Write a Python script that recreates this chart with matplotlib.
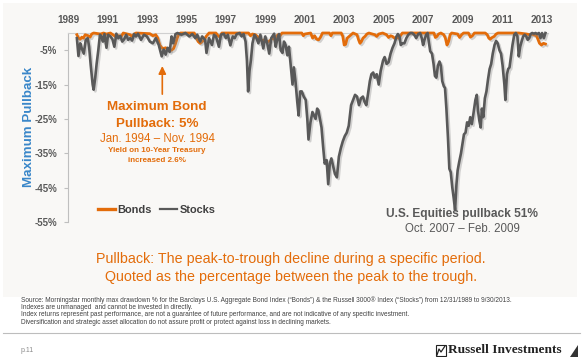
import matplotlib
matplotlib.use("Agg")
import matplotlib.pyplot as plt
import matplotlib.patheffects as pe
from matplotlib.patches import Rectangle, Polygon
from matplotlib.lines import Line2D

plt.rcParams['font.family'] = ['Liberation Sans', 'DejaVu Sans']

# ---------------- data ----------------
stock_t = [1990.00, 1990.08, 1990.17, 1990.25, 1990.35, 1990.45, 1990.55, 1990.62, 1990.70, 1990.80,
           1990.85, 1990.93, 1991.00, 1991.08, 1991.17, 1991.25, 1991.32, 1991.40, 1991.50, 1991.58,
           1991.70, 1991.80, 1991.90, 1992.00, 1992.10, 1992.20, 1992.30, 1992.40, 1992.50, 1992.60,
           1992.70, 1992.80, 1992.90, 1993.00, 1993.10, 1993.25, 1993.40, 1993.55, 1993.70, 1993.85,
           1994.00, 1994.15, 1994.30, 1994.40, 1994.50, 1994.60, 1994.70, 1994.80, 1994.88, 1995.00,
           1995.10, 1995.30, 1995.50, 1995.70, 1995.85, 1996.00, 1996.10, 1996.25, 1996.35, 1996.50,
           1996.57, 1996.70, 1996.85, 1996.95, 1997.05, 1997.20, 1997.30, 1997.45, 1997.55, 1997.65,
           1997.78, 1997.90, 1998.00, 1998.10, 1998.25, 1998.35, 1998.45, 1998.55, 1998.62, 1998.68,
           1998.75, 1998.82, 1998.90, 1999.00, 1999.10, 1999.20, 1999.30, 1999.45, 1999.55, 1999.65,
           1999.75, 1999.85, 2000.00, 2000.08, 2000.15, 2000.25, 2000.33, 2000.42, 2000.50, 2000.58,
           2000.67, 2000.75, 2000.85, 2000.93, 2001.00, 2001.08, 2001.17, 2001.24, 2001.32, 2001.40,
           2001.50, 2001.60, 2001.68, 2001.74, 2001.84, 2001.94, 2002.02, 2002.10, 2002.18, 2002.24,
           2002.32, 2002.40, 2002.48, 2002.56, 2002.66, 2002.74, 2002.82, 2002.90, 2003.00, 2003.08,
           2003.18, 2003.28, 2003.38, 2003.48, 2003.58, 2003.68, 2003.78, 2003.90, 2004.00, 2004.10,
           2004.20, 2004.30, 2004.40, 2004.50, 2004.58, 2004.67, 2004.75, 2004.85, 2004.93, 2005.02,
           2005.10, 2005.20, 2005.30, 2005.40, 2005.52, 2005.60, 2005.70, 2005.80, 2005.90, 2006.00,
           2006.10, 2006.20, 2006.27, 2006.35, 2006.42, 2006.50, 2006.60, 2006.70, 2006.80, 2006.90,
           2007.00, 2007.10, 2007.20, 2007.30, 2007.40, 2007.48, 2007.55, 2007.62, 2007.70, 2007.78,
           2007.85, 2007.91, 2008.00, 2008.08, 2008.15, 2008.22, 2008.30, 2008.38, 2008.45, 2008.52,
           2008.60, 2008.66, 2008.73, 2008.81, 2008.88, 2008.95, 2009.03, 2009.10, 2009.17, 2009.24,
           2009.30, 2009.38, 2009.47, 2009.55, 2009.62, 2009.70, 2009.78, 2009.86, 2009.94, 2010.02,
           2010.10, 2010.20, 2010.27, 2010.33, 2010.40, 2010.47, 2010.53, 2010.60, 2010.68, 2010.76,
           2010.84, 2010.92, 2011.00, 2011.08, 2011.17, 2011.25, 2011.33, 2011.42, 2011.50, 2011.58,
           2011.67, 2011.72, 2011.80, 2011.86, 2011.93, 2012.00, 2012.08, 2012.17, 2012.25, 2012.33,
           2012.40, 2012.47, 2012.55, 2012.62, 2012.70, 2012.78, 2012.85, 2012.93, 2013.00, 2013.08,
           2013.17, 2013.25, 2013.33, 2013.42, 2013.50, 2013.58, 2013.67, 2013.75]
stock_v = [-1.5, -6.7, -3.0, -4.5, -6.0, -2.0, -1.5, -4.0, -9.3, -15.0,
           -16.5, -13.0, -9.0, -5.3, -0.5, -1.0, -2.5, -0.3, -4.3, -0.5,
           -1.0, -1.8, -4.0, -0.2, -1.5, -0.8, -2.5, -1.8, -0.5, -2.0,
           -1.5, -2.2, -0.3, -1.0, -0.2, -2.0, -0.5, -1.0, -2.5, -3.0,
           -1.5, -3.5, -6.8, -4.8, -6.3, -4.3, -5.5, -1.0, -3.0, -0.3,
           0.0, -0.5, 0.0, -1.0, -0.3, -1.5, -0.5, -2.5, -1.0, -2.0,
           -5.8, -1.5, -3.5, -0.5, -1.0, -4.0, -0.5, -0.2, -1.5, -0.5,
           -3.6, -1.0, -1.5, -0.3, 0.0, -1.0, -0.3, -2.5, -8.0, -17.0,
           -11.0, -8.0, -3.0, -0.5, -1.5, -3.0, -0.5, -4.5, -1.0, -3.0,
           -6.0, -1.5, -0.2, -4.0, -2.0, -0.3, -5.0, -5.8, -2.5, -3.5,
           -6.5, -4.0, -10.0, -15.0, -10.0, -14.0, -20.0, -24.0, -17.0, -17.0,
           -18.5, -19.5, -25.0, -31.0, -26.0, -23.0, -24.0, -25.0, -22.0, -22.5,
           -25.0, -27.5, -33.0, -38.0, -37.0, -44.0, -38.0, -36.5, -39.0, -41.0,
           -42.0, -36.0, -33.5, -31.5, -30.0, -29.0, -27.0, -21.0, -19.5, -18.0,
           -18.5, -21.0, -19.0, -18.5, -20.0, -21.0, -18.0, -14.0, -12.0, -11.5,
           -13.0, -12.0, -15.0, -11.0, -8.0, -7.0, -9.0, -8.5, -6.0, -4.3,
           -3.0, -1.0, -0.3, -1.0, -3.5, -3.0, -3.0, -1.5, -0.5, 0.0,
           0.0, -0.5, -1.5, -0.3, 0.0, -1.5, -3.5, -2.0, -0.5, 0.0,
           -3.0, -5.3, -6.0, -9.0, -12.5, -13.0, -9.5, -8.3, -9.5, -14.0,
           -15.5, -16.0, -22.0, -30.5, -39.5, -40.5, -45.0, -48.0, -51.5, -44.0,
           -40.0, -37.5, -35.0, -32.0, -29.5, -29.0, -26.0, -27.0, -24.5, -26.5,
           -23.5, -19.5, -18.0, -22.5, -25.5, -27.5, -22.0, -24.5, -19.0, -17.0,
           -13.5, -10.5, -9.0, -6.0, -3.5, -2.3, -3.0, -5.0, -6.0, -9.5,
           -15.0, -19.5, -12.0, -10.5, -10.0, -7.0, -3.5, -0.5, 0.0, -1.0,
           -6.8, -4.0, -2.3, -1.0, -0.5, -1.0, -2.0, -1.5, -0.3, 0.0,
           -0.2, 0.0, -0.3, 0.0, -1.5, 0.0, -1.5, 0.0]

bond_t = [1990.00, 1990.08, 1990.17, 1990.25, 1990.33, 1990.42, 1990.58, 1990.67, 1990.75, 1990.85,
          1991.20, 1991.35, 1991.50, 1991.70, 1992.00, 1992.10, 1992.25, 1992.35, 1992.70, 1992.80,
          1992.90, 1993.00, 1993.70, 1993.85, 1994.00, 1994.10, 1994.20, 1994.30, 1994.40, 1994.50,
          1994.60, 1994.70, 1994.80, 1994.90, 1995.00, 1995.08, 1995.15, 1995.25, 1995.95, 1996.05,
          1996.15, 1996.25, 1996.35, 1996.45, 1996.55, 1996.70, 1997.05, 1997.15, 1997.25, 1997.35,
          1998.70, 1998.80, 1998.90, 1999.05, 1999.15, 1999.30, 1999.40, 1999.50, 1999.60, 1999.70,
          1999.80, 1999.90, 2000.00, 2000.10, 2000.20, 2000.30, 2000.40, 2001.40, 2001.48, 2001.55,
          2001.85, 2001.95, 2002.05, 2002.15, 2002.25, 2002.35, 2002.45, 2002.80, 2002.88, 2002.95,
          2003.40, 2003.48, 2003.55, 2003.62, 2003.70, 2003.80, 2003.90, 2004.00, 2004.20, 2004.28,
          2004.35, 2004.42, 2004.50, 2004.60, 2004.70, 2004.80, 2005.10, 2005.20, 2005.30, 2005.50,
          2005.70, 2005.80, 2005.90, 2006.00, 2006.10, 2006.20, 2006.30, 2006.40, 2006.50, 2008.10,
          2008.17, 2008.25, 2008.33, 2008.45, 2008.60, 2008.68, 2008.76, 2008.84, 2008.92, 2009.00,
          2009.30, 2009.40, 2009.50, 2009.60, 2009.85, 2009.95, 2010.05, 2010.15, 2010.70, 2010.80,
          2010.88, 2010.95, 2011.05, 2011.15, 2011.25, 2011.35, 2012.40, 2012.80, 2012.95, 2013.05,
          2013.15, 2013.30, 2013.38, 2013.45, 2013.55, 2013.65, 2013.75]
bond_v = [-0.5, -1.5, -1.8, -1.2, -1.5, -0.5, -0.8, -1.2, -0.3, 0.0,
          -0.3, 0.0, -0.3, 0.0, -1.2, -0.8, -1.0, 0.0, -0.5, -1.0,
          -0.3, 0.0, -0.2, -0.8, -0.5, -1.5, -3.5, -4.3, -4.5, -4.3,
          -4.7, -5.0, -5.0, -4.5, -3.0, -1.5, -0.5, 0.0, 0.0, -1.5,
          -2.5, -3.0, -2.5, -2.0, -1.0, 0.0, 0.0, -0.8, -1.2, 0.0,
          0.0, -0.8, -0.3, -0.5, -1.0, -1.8, -2.3, -2.0, -2.3, -2.5,
          -2.2, -1.5, -1.8, -1.0, -0.5, -0.8, 0.0, 0.0, -0.8, -0.3,
          0.0, -1.5, -0.8, -1.8, -2.0, -1.2, 0.0, 0.0, -0.8, 0.0,
          0.0, -1.0, -3.5, -3.3, -1.5, -1.0, -0.5, 0.0, -0.5, -2.0,
          -3.0, -2.5, -1.5, -1.0, -0.3, 0.0, -0.5, -1.0, -0.3, 0.0,
          -0.5, -1.3, -0.8, -1.0, -1.5, -1.2, -1.5, -0.8, 0.0, 0.0,
          -1.3, -1.0, -0.3, 0.0, -0.5, -1.5, -3.5, -2.5, -0.5, 0.0,
          -0.3, -1.3, -0.5, 0.0, 0.0, -1.2, -0.8, 0.0, 0.0, -0.5,
          -1.5, -1.8, -1.3, -1.0, -0.3, 0.0, 0.0, -0.3, -0.5, -0.3,
          -0.5, -0.8, -2.0, -3.0, -3.5, -3.0, -3.2]

year_labels = [1989, 1991, 1993, 1995, 1997, 1999, 2001, 2003, 2005, 2007, 2009, 2011, 2013]
y_ticks = [-5, -15, -25, -35, -45, -55]

ORANGE = '#e36c0a'
GREY = '#595959'
BLUE = '#3a87c9'

W, H = 588, 357
fig = plt.figure(figsize=(W / 100, H / 100), dpi=100)
fig.patch.set_facecolor('white')

def fx(px):
    return px / W

def fy(py):
    return 1 - py / H

# slide background
fig.patches.append(Rectangle((fx(3), fy(297)), fx(577) - fx(3), fy(3) - fy(297),
                             transform=fig.transFigure, facecolor='#f9f8f6', edgecolor='none', zorder=-10))

ax = fig.add_axes([fx(68), fy(222), fx(548) - fx(68), fy(33) - fy(222)])
ax.set_zorder(2)
ax.set_facecolor('none')
ax.set_xlim(1990.0, 1990.0 + 480 / 20.1)
ax.set_ylim(-55, 0)

shadow = [pe.SimpleLineShadow(offset=(1.2, -1.2), shadow_color='#888888', alpha=0.35), pe.Normal()]
ax.plot(bond_t, bond_v, color=ORANGE, lw=2.0, solid_joinstyle='round', path_effects=shadow,
        label='Bonds', zorder=3, clip_on=False)
ax.plot(stock_t, stock_v, color=GREY, lw=1.9, solid_joinstyle='round', path_effects=shadow,
        label='Stocks', zorder=4, clip_on=False)

for s in ['right', 'bottom']:
    ax.spines[s].set_visible(False)
ax.spines['left'].set_color('#bfbfbf')
ax.spines['left'].set_linewidth(0.8)
ax.spines['top'].set_color('#d0d0d0')
ax.spines['top'].set_linewidth(0.8)

ax.set_yticks(y_ticks)
ax.set_yticklabels([f'{v}%' for v in y_ticks])
ax.tick_params(axis='y', length=3, width=0.8, color='#bfbfbf', pad=5,
               labelsize=7, labelcolor=GREY)
for lab in ax.get_yticklabels():
    lab.set_fontweight('bold')

ax.xaxis.tick_top()
ax.set_xticks([y + 0.55 for y in year_labels])
ax.set_xticklabels([str(y) for y in year_labels])
ax.tick_params(axis='x', length=0, pad=6, labelsize=7.2, labelcolor=GREY)
for lab in ax.get_xticklabels():
    lab.set_fontweight('bold')

leg = ax.legend(loc='center left', bbox_to_anchor=(fx(89), fy(210)), bbox_transform=fig.transFigure,
                ncol=2, frameon=False, handlelength=1.6, handletextpad=0.2, columnspacing=0.7,
                borderpad=0.3, prop={'weight': 'bold', 'size': 7.9})
for t in leg.get_texts():
    t.set_color('#404040')
for h, w in zip(leg.legend_handles, [2.4, 1.6]):
    h.set_path_effects([])
    h.set_linewidth(w)

# arrow
ax.annotate('', xy=(1994.33, -8.8), xytext=(1994.33, -18.6),
            arrowprops=dict(arrowstyle='-|>,head_length=0.45,head_width=0.22', color=ORANGE, lw=1.2))

# annotation texts
fig.text(fx(157), fy(107), 'Maximum Bond', ha='center', va='center', color=ORANGE,
         fontsize=9.6, fontweight='bold')
fig.text(fx(157), fy(124), 'Pullback: 5%', ha='center', va='center', color=ORANGE,
         fontsize=9.6, fontweight='bold')
fig.text(fx(157), fy(139), 'Jan. 1994 \u2013 Nov. 1994', ha='center', va='center', color=ORANGE,
         fontsize=8.3)
fig.text(fx(157), fy(150), 'Yield on 10-Year Treasury', ha='center', va='center', color=ORANGE,
         fontsize=5.8, fontweight='bold')
fig.text(fx(157), fy(160), 'increased 2.6%', ha='center', va='center', color=ORANGE,
         fontsize=5.8, fontweight='bold')

fig.text(fx(462), fy(214), 'U.S. Equities pullback 51%', ha='center', va='center', color=GREY,
         fontsize=8.6, fontweight='bold')
fig.text(fx(462), fy(229), 'Oct. 2007 \u2013 Feb. 2009', ha='center', va='center', color=GREY,
         fontsize=8.3)

# y label
fig.text(fx(29), fy(127), 'Maximum Pullback', rotation=90, ha='center', va='center', color=BLUE,
         fontsize=9.6, fontweight='bold')

# definition
fig.text(fx(291), fy(259), 'Pullback: The peak-to-trough decline during a specific period.',
         ha='center', va='center', color=ORANGE, fontsize=10.3)
fig.text(fx(291), fy(277), 'Quoted as the percentage between the peak to the trough.',
         ha='center', va='center', color=ORANGE, fontsize=10.3)

# footnotes
notes = ['Source: Morningstar monthly max drawdown % for the Barclays U.S. Aggregate Bond Index (\u201cBonds\u201d) '
         '& the Russell 3000\u00ae Index (\u201cStocks\u201d) from 12/31/1989 to 9/30/2013.',
         'Indexes are unmanaged  and cannot be invested in directly.',
         'Index returns represent past performance, are not a guarantee of future performance, and are not '
         'indicative of any specific investment.',
         'Diversification and strategic asset allocation do not assure profit or protect against loss in '
         'declining markets.']
for n, yy in zip(notes, [300.5, 307.5, 315, 322]):
    fig.text(fx(21), fy(yy), n, ha='left', va='center', color='#404040', fontsize=4.7)

fig.add_artist(Line2D([fx(3), fx(580)], [fy(333), fy(333)], transform=fig.transFigure,
                      color='#bdbdbd', lw=0.8))

fig.text(fx(21), fy(350), 'p.11', ha='left', va='center', color='#8c8c8c', fontsize=5)

# logo
fig.patches.append(Rectangle((fx(436), fy(356)), fx(446) - fx(436), fy(345) - fy(356),
                             transform=fig.transFigure, facecolor='white', edgecolor='#222222', lw=0.8))
fig.add_artist(Line2D([fx(437), fx(439), fx(441), fx(445)], [fy(355), fy(349), fy(352), fy(346)],
                      transform=fig.transFigure, color='#222222', lw=0.9))
fig.text(fx(448), fy(350), 'Russell Investments', ha='left', va='center', color='#222222',
         fontsize=9.6, fontweight='bold', family=['Liberation Serif', 'DejaVu Serif'])
fig.patches.append(Polygon([(fx(570), fy(357)), (fx(578), fy(357)), (fx(578), fy(345))], closed=True,
                           transform=fig.transFigure, facecolor='#333333', edgecolor='none'))

fig.savefig('out.png', dpi=100, facecolor=fig.get_facecolor())
